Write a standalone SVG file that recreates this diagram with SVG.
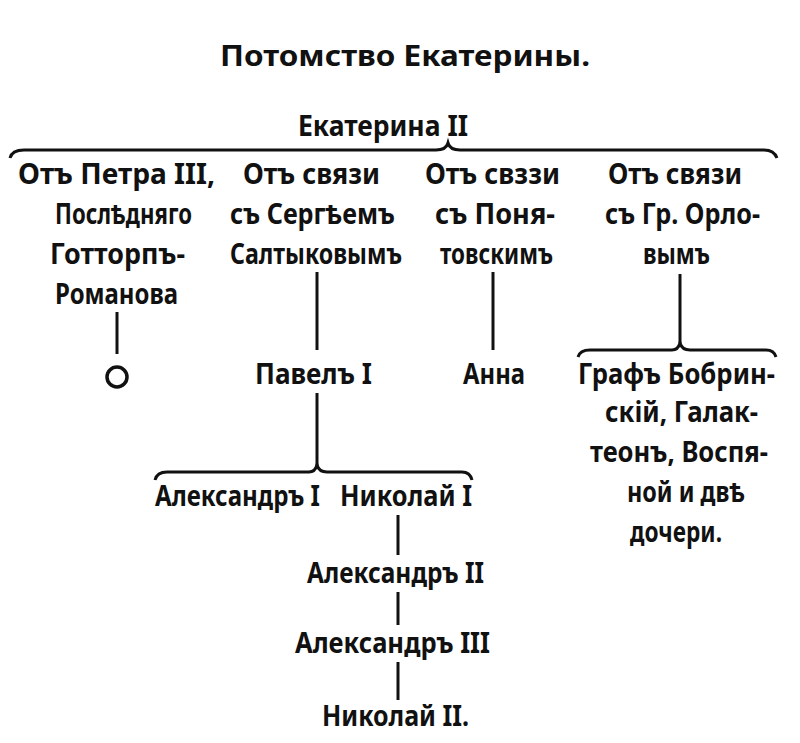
<svg xmlns="http://www.w3.org/2000/svg" width="800" height="743" viewBox="0 0 800 743">
<style>
text{font-family:"Noto Sans","DejaVu Sans",sans-serif;font-weight:bold;font-size:29px;fill:#111}
.l{stroke:#111;stroke-width:3;fill:none}
</style>
<rect width="800" height="743" fill="#fff"/>
<text x="220" y="66" font-size="40" textLength="370" lengthAdjust="spacingAndGlyphs">Потомство Екатерины.</text>
<g id="n-ekaterina"><text x="298" y="136" textLength="170" lengthAdjust="spacingAndGlyphs">Екатерина II</text></g>
<g id="n-petr">
<text x="18" y="184" textLength="197" lengthAdjust="spacingAndGlyphs">Отъ Петра III,</text>
<text x="55" y="224" textLength="137" lengthAdjust="spacingAndGlyphs">Послѣдняго</text>
<text x="50" y="264" textLength="135" lengthAdjust="spacingAndGlyphs">Готторпъ-</text>
<text x="55" y="304" textLength="123" lengthAdjust="spacingAndGlyphs">Романова</text>
</g>
<g id="n-saltykov">
<text x="243" y="184" textLength="137" lengthAdjust="spacingAndGlyphs">Отъ связи</text>
<text x="230" y="224" textLength="165" lengthAdjust="spacingAndGlyphs">съ Сергѣемъ</text>
<text x="230" y="264" textLength="172" lengthAdjust="spacingAndGlyphs">Салтыковымъ</text>
</g>
<g id="n-poniat">
<text x="425" y="184" textLength="135" lengthAdjust="spacingAndGlyphs">Отъ свззи</text>
<text x="435" y="224" textLength="120" lengthAdjust="spacingAndGlyphs">съ Поня-</text>
<text x="440" y="264" textLength="113" lengthAdjust="spacingAndGlyphs">товскимъ</text>
</g>
<g id="n-orlov">
<text x="608" y="184" textLength="134" lengthAdjust="spacingAndGlyphs">Отъ связи</text>
<text x="605" y="224" textLength="155" lengthAdjust="spacingAndGlyphs">съ Гр. Орло-</text>
<text x="643" y="264" textLength="67" lengthAdjust="spacingAndGlyphs">вымъ</text>
</g>
<g id="n-none"><circle cx="117" cy="377" r="10" fill="none" stroke="#111" stroke-width="3.5"/></g>
<g id="n-pavel"><text x="255" y="384" textLength="117" lengthAdjust="spacingAndGlyphs">Павелъ I</text></g>
<g id="n-anna"><text x="463" y="384" textLength="62" lengthAdjust="spacingAndGlyphs">Анна</text></g>
<g id="n-bobrinsky">
<text x="578" y="384" textLength="197" lengthAdjust="spacingAndGlyphs">Графъ Бобрин-</text>
<text x="605" y="422" textLength="153" lengthAdjust="spacingAndGlyphs">скій, Галак-</text>
<text x="590" y="462" textLength="178" lengthAdjust="spacingAndGlyphs">теонъ, Воспя-</text>
<text x="627" y="502" textLength="118" lengthAdjust="spacingAndGlyphs">ной и двѣ</text>
<text x="630" y="542" textLength="92" lengthAdjust="spacingAndGlyphs">дочери.</text>
</g>
<g id="n-alex1"><text x="155" y="506" textLength="165" lengthAdjust="spacingAndGlyphs">Александръ I</text></g>
<g id="n-nik1"><text x="340" y="506" textLength="132" lengthAdjust="spacingAndGlyphs">Николай I</text></g>
<g id="n-alex2"><text x="307" y="583" textLength="177" lengthAdjust="spacingAndGlyphs">Александръ II</text></g>
<g id="n-alex3"><text x="295" y="653" textLength="195" lengthAdjust="spacingAndGlyphs">Александръ III</text></g>
<g id="n-nik2"><text x="322" y="726" textLength="147" lengthAdjust="spacingAndGlyphs">Николай II.</text></g>
<g id="connectors">
<path class="l" d="M10,158 Q12,150 24,150 L436,150 Q446,150 448,143 Q450,150 460,150 L764,150 Q774,150 777,158"/>
<path class="l" d="M117,312 V354"/>
<path class="l" d="M317,272 V350"/>
<path class="l" d="M493,272 V350"/>
<path class="l" d="M680,274 V343"/>
<path class="l" d="M578,357 Q580,350 590,350 L672,350 Q678,350 680,343 Q682,350 690,350 L766,350 Q774,350 776,357"/>
<path class="l" d="M317,393 V466"/>
<path class="l" d="M155,480 Q157,472 167,472 L309,472 Q315,472 317,465 Q319,472 327,472 L462,472 Q470,472 472,480"/>
<path class="l" d="M398,515 V555"/>
<path class="l" d="M398,592 V625"/>
<path class="l" d="M398,662 V700"/>
</g>
</svg>
